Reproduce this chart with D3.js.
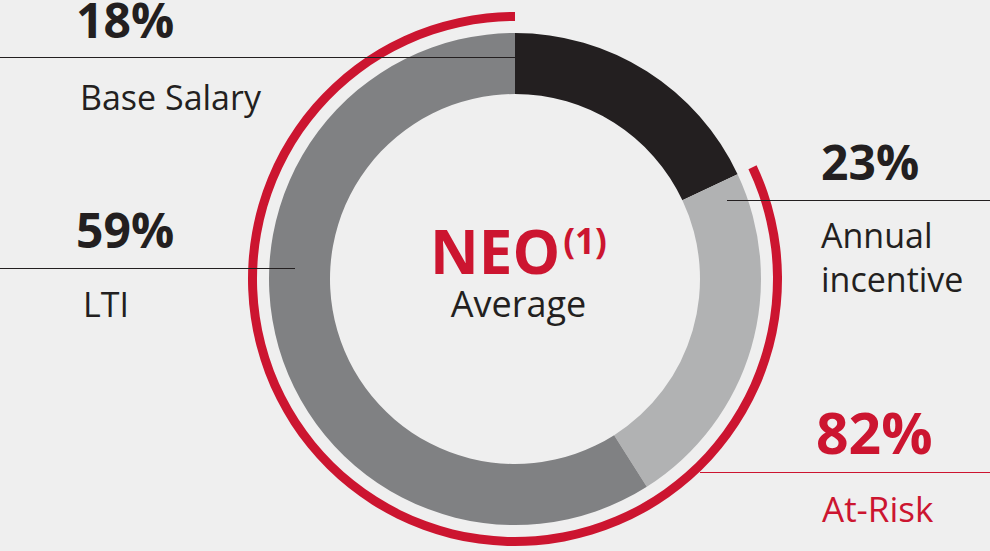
<!DOCTYPE html>
<html>
<head>
<meta charset="utf-8">
<script src="https://cdn.jsdelivr.net/npm/d3@7"></script>
<style>
  html, body { margin: 0; padding: 0; background: #efefef; }
  svg { display: block; }
  text { font-family: "Open Sans", "Noto Sans", sans-serif; }
</style>
</head>
<body>
<svg id="chart" width="990" height="551"></svg>
<script>
// ---- data ----
const categories = ["Base Salary", "Annual incentive", "LTI"];
const values = [18, 23, 59];
const percentLabels = ["18%", "23%", "59%"];
const atRiskValue = 82;
const atRiskLabel = "82%";
const atRiskName = "At-Risk";
const centerTitle = "NEO";
const centerSup = "(1)";
const centerSub = "Average";

// ---- styles ----
const segColors = ["#231f20", "#b1b2b3", "#808183"];
const red = "#cc1530";
const dark = "#231f20";

const svg = d3.select("#chart");
const W = 990, H = 551;
const cx = 515, cy = 279;
const rOuter = 246, rInner = 185;
const redInner = 258, redOuter = 267;

const g = svg.append("g").attr("transform", `translate(${cx},${cy})`);

const pie = d3.pie().sort(null).value(d => d)(values);
const arc = d3.arc().innerRadius(rInner).outerRadius(rOuter);

g.selectAll("path.seg")
  .data(pie)
  .join("path")
  .attr("class", "seg")
  .attr("d", arc)
  .attr("fill", (d, i) => segColors[i]);

// at-risk red arc: covers the at-risk share, ending at top
const total = d3.sum(values);
const angleScale = d3.scaleLinear().domain([0, total]).range([0, 2 * Math.PI]);
const redArc = d3.arc().innerRadius(redInner).outerRadius(redOuter)
  .startAngle(angleScale(total - atRiskValue)).endAngle(angleScale(total));
g.append("path").attr("d", redArc()).attr("fill", red);

// leader lines
const lines = [
  {x1: 0, x2: cx, y: 57.5, c: dark},
  {x1: 727, x2: W, y: 200.5, c: dark},
  {x1: 0, x2: 295, y: 268.5, c: dark},
  {x1: 700, x2: W, y: 472.5, c: red}
];
svg.selectAll("line.lead").data(lines).join("line")
  .attr("class", "lead")
  .attr("x1", d => d.x1).attr("x2", d => d.x2)
  .attr("y1", d => d.y).attr("y2", d => d.y)
  .attr("stroke", d => d.c).attr("stroke-width", 1.2);

// labels
const pctPos = [[76, 38], [821, 180], [76, 248]];
const namePos = [[80, 110], [821, 248], [83, 317]];
percentLabels.forEach((t, i) => {
  svg.append("text").attr("x", pctPos[i][0]).attr("y", pctPos[i][1])
    .attr("font-size", 48).attr("font-weight", 700).attr("fill", dark).text(t);
});
categories.forEach((t, i) => {
  const el = svg.append("text").attr("x", namePos[i][0]).attr("y", namePos[i][1])
    .attr("font-size", 34).attr("fill", dark);
  if (t === "Annual incentive") {
    el.append("tspan").attr("x", namePos[i][0]).text("Annual");
    el.append("tspan").attr("x", namePos[i][0]).attr("dy", 44).text("incentive");
  } else {
    el.text(t);
  }
});
svg.append("text").attr("x", 816).attr("y", 454)
  .attr("font-size", 57).attr("font-weight", 700).attr("fill", red).text(atRiskLabel);
svg.append("text").attr("x", 822).attr("y", 522)
  .attr("font-size", 35).attr("fill", red).text(atRiskName);

// center
const t1 = svg.append("text").attr("x", 430).attr("y", 274)
  .attr("font-size", 60).attr("font-weight", 700).attr("fill", red);
t1.append("tspan").text(centerTitle);
t1.append("tspan").attr("font-size", 35).attr("dy", -20).attr("dx", 3).text(centerSup);
svg.append("text").attr("x", 518.5).attr("y", 317).attr("text-anchor", "middle")
  .attr("font-size", 36).attr("fill", dark).text(centerSub);
</script>
</body>
</html>
